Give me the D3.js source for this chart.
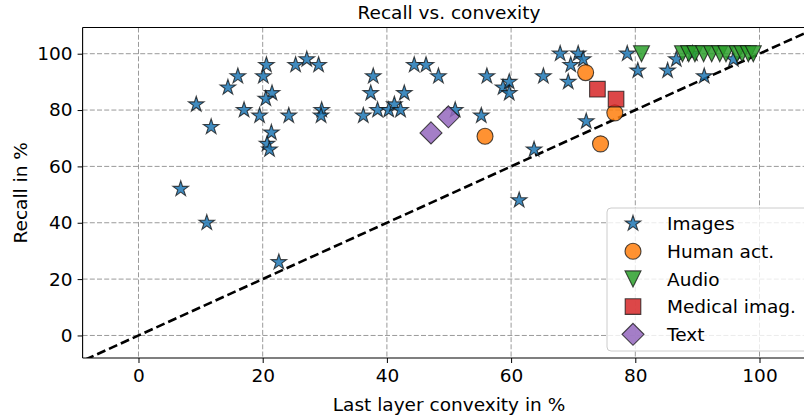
<!DOCTYPE html>
<html>
<head>
<meta charset="utf-8">
<script src="https://cdn.jsdelivr.net/npm/d3@7"></script>
<style>
  html, body { margin: 0; padding: 0; background: #fff; }
  svg { display: block; font-family: "DejaVu Sans", sans-serif; }
</style>
</head>
<body>
<svg id="chart" width="804" height="417"></svg>
<script>
// Per-dataset results: last-layer convexity (%) vs. recall (%)
const imagesX = [6.8, 9.3, 11.0, 11.7, 14.4, 16.0, 17.0, 19.5, 20.1, 20.6, 21.5, 20.5, 21.4, 20.7, 21.1,
  22.6, 24.2, 25.3, 27.1, 29.0, 29.5, 29.4, 36.2, 37.4, 37.8, 38.5, 40.3, 41.2, 42.2, 42.8,
  44.4, 46.3, 48.3, 51.0, 55.2, 56.1, 58.7, 59.7, 59.7, 61.3, 63.7, 65.2, 67.9, 69.2, 69.6,
  70.8, 71.6, 72.1, 78.7, 80.4, 85.2, 86.6, 89.2, 91.1, 95.8];
const imagesY = [52, 82, 40, 74, 88, 92, 80, 78, 92, 96, 86, 84, 72, 68, 66,
  26, 78, 96, 98, 96, 80, 78, 78, 86, 92, 80, 80, 82, 80, 86,
  96, 96, 92, 80, 78, 92, 88, 90, 86, 48, 66, 92, 100, 90, 96,
  100, 98, 76, 100, 94, 94, 98, 100, 92, 98];

const humanX = [55.8, 72.0, 74.4, 76.7];
const humanY = [70.7, 93.3, 68.0, 79.0];

const audioX = [81.0, 87.6, 88.6, 89.6, 91.0, 92.3, 93.6, 94.6, 96.4, 97.2, 98.2, 99.0];
const audioY = [100, 100, 100, 100, 100, 100, 100, 100, 100, 100, 100, 100];

const medicalX = [73.9, 76.9];
const medicalY = [87.4, 83.9];

const textX = [47.1, 49.9];
const textY = [71.9, 77.6];

const xTicks = [0, 20, 40, 60, 80, 100];
const yTicks = [0, 20, 40, 60, 80, 100];

const legendLabels = ["Images", "Human act.", "Audio", "Medical imag.", "Text"];

// ---- layout ----
const svg = d3.select("#chart");
const plotL = 82.6, plotR = 815.4, plotT = 27.5, plotB = 358;
const x = d3.scaleLinear().domain([-9, 109]).range([plotL, plotR]);
const y = d3.scaleLinear().domain([-8, 109.3]).range([plotB, plotT]);
const FONT = 18.5;

svg.append("defs").append("clipPath").attr("id", "plotclip")
  .append("rect").attr("x", plotL).attr("y", plotT)
  .attr("width", plotR - plotL).attr("height", plotB - plotT);

// grid
const grid = svg.append("g").attr("clip-path", "url(#plotclip)");
grid.selectAll("line.vx").data(xTicks).join("line")
  .attr("x1", d => x(d)).attr("x2", d => x(d))
  .attr("y1", plotT).attr("y2", plotB)
  .attr("stroke", "#9a9a9a").attr("stroke-width", 1).attr("stroke-dasharray", "5,2.2");
grid.selectAll("line.hy").data(yTicks).join("line")
  .attr("y1", d => y(d)).attr("y2", d => y(d))
  .attr("x1", plotL).attr("x2", plotR)
  .attr("stroke", "#9a9a9a").attr("stroke-width", 1).attr("stroke-dasharray", "5,2.2");

// identity reference line
const plot = svg.append("g").attr("clip-path", "url(#plotclip)");
plot.append("line")
  .attr("x1", x(-20)).attr("y1", y(-20)).attr("x2", x(120)).attr("y2", y(120))
  .attr("stroke", "#000").attr("stroke-width", 2.6).attr("stroke-dasharray", "9,4");

// marker shapes
function starPath(R) {
  const r = R * 0.381966;
  const pts = [];
  for (let i = 0; i < 10; i++) {
    const rad = i % 2 === 0 ? R : r;
    const a = -Math.PI / 2 + i * Math.PI / 5;
    pts.push([rad * Math.cos(a), rad * Math.sin(a)]);
  }
  return "M" + pts.map(p => p[0].toFixed(2) + "," + p[1].toFixed(2)).join("L") + "Z";
}
const shapes = {
  star: starPath(8.2),
  circle: "M8,0A8,8 0 1,1 -8,0A8,8 0 1,1 8,0Z",
  tri: "M-8,-8L8,-8L0,8Z",
  square: "M-7.8,-7.8L7.8,-7.8L7.8,7.8L-7.8,7.8Z",
  diamond: "M0,-11L11,0L0,11L-11,0Z"
};

const series = [
  { xs: imagesX, ys: imagesY, shape: "star", color: "#1f77b4" },
  { xs: humanX, ys: humanY, shape: "circle", color: "#ff7f0e" },
  { xs: audioX, ys: audioY, shape: "tri", color: "#2ca02c" },
  { xs: medicalX, ys: medicalY, shape: "square", color: "#d62728" },
  { xs: textX, ys: textY, shape: "diamond", color: "#9467bd" }
];

function styleMarker(sel, s) {
  sel.attr("d", shapes[s.shape])
    .attr("fill", s.color).attr("fill-opacity", 0.85)
    .attr("stroke", "#111").attr("stroke-opacity", 0.75).attr("stroke-width", 1.1)
    .attr("stroke-linejoin", "miter");
}

series.forEach(s => {
  const pts = s.xs.map((v, i) => [v, s.ys[i]]);
  plot.append("g").selectAll("path").data(pts).join("path")
    .attr("transform", d => `translate(${x(d[0])},${y(d[1])})`)
    .call(styleMarker, s);
});

// axes
const xAxis = svg.append("g").attr("transform", `translate(0,${plotB})`)
  .call(d3.axisBottom(x).tickValues(xTicks).tickSize(5).tickPadding(6).tickFormat(d3.format("d")));
const yAxis = svg.append("g").attr("transform", `translate(${plotL},0)`)
  .call(d3.axisLeft(y).tickValues(yTicks).tickSize(5).tickPadding(5).tickFormat(d3.format("d")));
[xAxis, yAxis].forEach(a => {
  a.select(".domain").remove();
  a.selectAll("line").attr("stroke", "#000").attr("stroke-width", 1);
  a.selectAll("text").attr("font-size", FONT).attr("font-family", "DejaVu Sans, sans-serif").attr("fill", "#000");
});

// spines
svg.append("line").attr("x1", plotL).attr("x2", plotL).attr("y1", plotT).attr("y2", plotB)
  .attr("stroke", "#000").attr("stroke-width", 1.1);
svg.append("line").attr("x1", plotL).attr("x2", plotR).attr("y1", plotB).attr("y2", plotB)
  .attr("stroke", "#000").attr("stroke-width", 1.1);
svg.append("line").attr("x1", plotL).attr("x2", plotR).attr("y1", plotT).attr("y2", plotT)
  .attr("stroke", "#000").attr("stroke-width", 1.1);
svg.append("line").attr("x1", plotR).attr("x2", plotR).attr("y1", plotT).attr("y2", plotB)
  .attr("stroke", "#000").attr("stroke-width", 1.1);

// titles
svg.append("text").attr("x", (plotL + plotR) / 2).attr("y", 19)
  .attr("text-anchor", "middle").attr("font-size", FONT).text("Recall vs. convexity");
svg.append("text").attr("x", (plotL + plotR) / 2).attr("y", 411)
  .attr("text-anchor", "middle").attr("font-size", FONT).text("Last layer convexity in %");
svg.append("text").attr("transform", `translate(27,${(plotT + plotB) / 2}) rotate(-90)`)
  .attr("text-anchor", "middle").attr("font-size", FONT).text("Recall in %");

// legend
const lg = svg.append("g").attr("transform", "translate(607,208)");
lg.append("rect").attr("x", 0).attr("y", 0).attr("width", 215).attr("height", 143)
  .attr("rx", 4).attr("fill", "#fff").attr("fill-opacity", 0.8)
  .attr("stroke", "#cccccc").attr("stroke-width", 1);
series.forEach((s, i) => {
  const row = lg.append("g").attr("transform", `translate(0,${15.5 + i * 27.7})`);
  row.append("path").attr("transform", "translate(26,0)").call(styleMarker, s);
  row.append("text").attr("x", 60).attr("y", 0).attr("dy", "0.36em")
    .attr("font-size", FONT).text(legendLabels[i]);
});
</script>
</body>
</html>
